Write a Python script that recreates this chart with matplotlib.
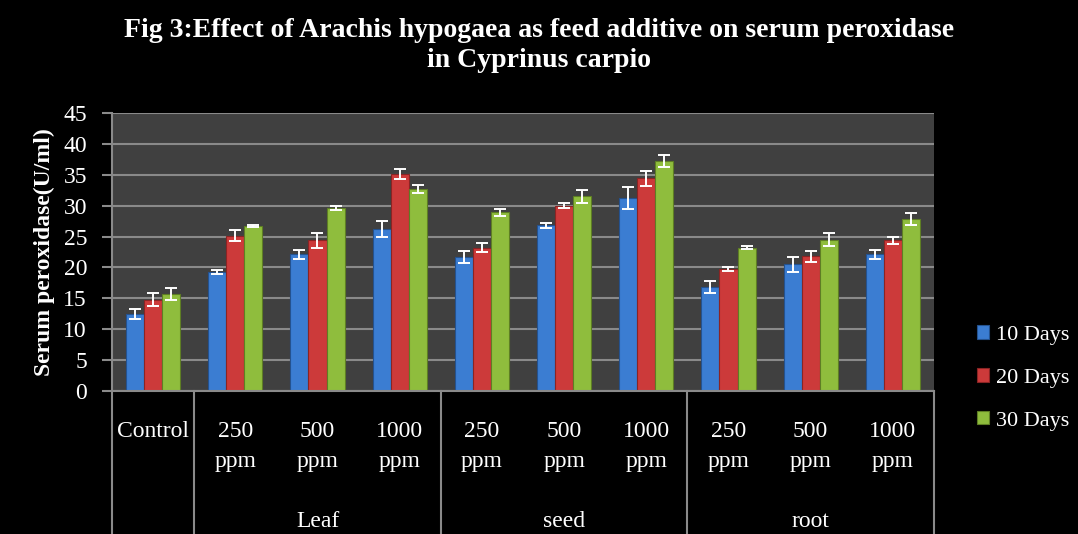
import numpy as np
import matplotlib.pyplot as plt
import matplotlib.transforms as mtransforms

plt.rcParams['font.family'] = ['Liberation Serif', 'DejaVu Serif']

# data
doses = ['Control', '250\nppm', '500\nppm', '1000\nppm',
         '250\nppm', '500\nppm', '1000\nppm',
         '250\nppm', '500\nppm', '1000\nppm']
groups = ['Leaf', 'seed', 'root']
group_spans = [(1, 3), (4, 6), (7, 9)]
series = ['10 Days', '20 Days', '30 Days']

days10 = [12.5, 19.3, 22.1, 26.2, 21.7, 26.8, 31.2, 16.8, 20.5, 22.1]
days20 = [14.8, 25.1, 24.4, 35.1, 23.2, 30.0, 34.4, 19.8, 21.8, 24.4]
days30 = [15.7, 26.7, 29.6, 32.7, 28.9, 31.5, 37.2, 23.2, 24.5, 27.8]
err10 = [0.8, 0.3, 0.8, 1.3, 1.0, 0.35, 1.8, 1.0, 1.2, 0.8]
err20 = [1.0, 0.9, 1.2, 0.8, 0.7, 0.4, 1.2, 0.3, 0.9, 0.6]
err30 = [1.0, 0.2, 0.3, 0.7, 0.6, 1.1, 1.0, 0.2, 1.0, 1.0]

colors = ['#3b7dd2', '#cc3a3a', '#8fbd3d']
edges = ['#24528f', '#8a2424', '#5e7e24']

fig = plt.figure(figsize=(10.78, 5.34), dpi=100, facecolor='black')
ax = fig.add_axes([0.1039, 0.2678, 0.7625, 0.5206])
ax.set_facecolor('#404040')

x = np.arange(len(doses))
w = 0.22
vals = [days10, days20, days30]
errs = [err10, err20, err30]
for k in range(3):
    ax.bar(x + (k - 1) * w, vals[k], width=w, color=colors[k],
           edgecolor=edges[k], linewidth=0.8, label=series[k], zorder=3)
    ax.errorbar(x + (k - 1) * w, vals[k], yerr=errs[k], fmt='none',
                ecolor='white', elinewidth=1.4, capsize=4.5, capthick=1.4, zorder=4)

ax.set_xlim(-0.5, len(doses) - 0.5)
ax.set_ylim(0, 45)
ax.set_yticks(range(0, 46, 5))
ax.yaxis.grid(True, color='#8a8a8a', linewidth=1.5, zorder=0)
ax.set_xticks([])
for s in ['top', 'right', 'bottom']:
    ax.spines[s].set_visible(False)
ax.spines['left'].set_color('#8a8a8a')
ax.spines['left'].set_linewidth(1.5)
ax.tick_params(axis='y', colors='#8a8a8a', length=7, width=1.5, pad=11,
               labelcolor='white', labelsize=17)
ax.set_ylabel('Serum peroxidase(U/ml)', color='white', fontsize=17,
              fontweight='bold', labelpad=6)

# multi-level category axis below the plot
trans = mtransforms.blended_transform_factory(ax.transData, ax.transAxes)
ax.plot([-0.5, len(doses) - 0.5], [0, 0], color='#8a8a8a', lw=1.5,
        transform=trans, clip_on=False, zorder=5)
for b in [-0.5, 0.5, 3.5, 6.5, 9.5]:
    ax.plot([b, b], [0, -0.53], color='#8a8a8a', lw=1.5,
            transform=trans, clip_on=False)
for i, lab in enumerate(doses):
    parts = lab.split('\n')
    ax.text(i, -0.147, parts[0], transform=trans, ha='center', va='center',
            color='white', fontsize=17)
    if len(parts) > 1:
        ax.text(i, -0.255, parts[1], transform=trans, ha='center', va='center',
                color='white', fontsize=17)
for g, (a, b) in zip(groups, group_spans):
    ax.text((a + b) / 2, -0.47, g, transform=trans, ha='center', va='center',
            color='white', fontsize=17)

fig.text(0.5, 0.915, 'Fig 3:Effect of Arachis hypogaea as feed additive on serum peroxidase\nin Cyprinus carpio',
         ha='center', va='center', color='white', fontsize=20,
         fontweight='bold', linespacing=1.25)

leg = ax.legend(loc='center left', bbox_to_anchor=(1.052, 0.047), frameon=False,
                fontsize=16, handlelength=0.55, handleheight=0.55, borderaxespad=0,
                borderpad=0, handletextpad=0.3, labelspacing=1.05, labelcolor='white')

fig.savefig('out.png', dpi=100, facecolor='black')
